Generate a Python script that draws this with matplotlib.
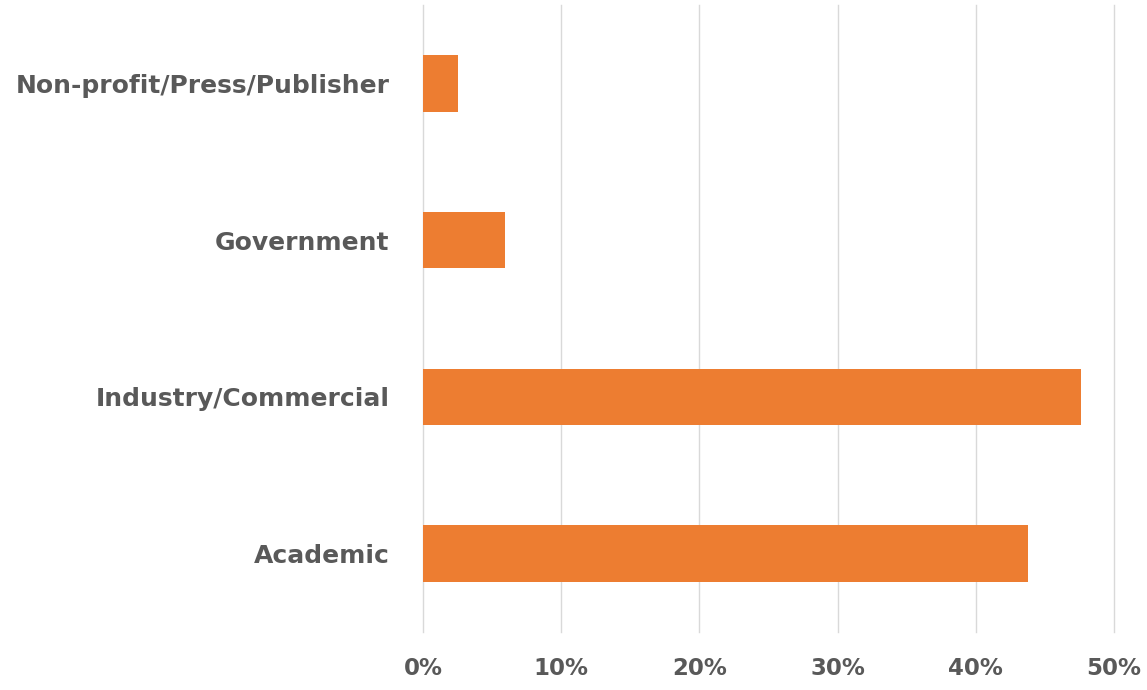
import matplotlib.pyplot as plt
from matplotlib.ticker import PercentFormatter

# Share of respondents by sector
sectors = ['Academic', 'Industry/Commercial', 'Government', 'Non-profit/Press/Publisher']
shares = [43.8, 47.6, 5.9, 2.5]

plt.rcParams['font.family'] = ['DejaVu Sans']

fig = plt.figure(figsize=(11.47, 6.90), dpi=100)
ax = fig.add_axes([0.3688, 0.084, 0.6024, 0.9088])

ax.barh(sectors, shares, height=0.36, color='#ED7D31', zorder=3)

ax.set_xlim(0, 50)
ax.set_ylim(-0.5, len(sectors) - 0.5)
ax.set_xticks(range(0, 51, 10))
ax.xaxis.set_major_formatter(PercentFormatter(decimals=0))
ax.grid(axis='x', color='#D9D9D9', linewidth=1.0, zorder=0)
ax.grid(axis='y', visible=False)
# keep the 50% gridline from being clipped at the edge
for line in ax.get_xgridlines():
    line.set_clip_on(False)

for side in ['top', 'right', 'bottom', 'left']:
    ax.spines[side].set_visible(False)

ax.tick_params(axis='both', length=0, labelcolor='#595959')
ax.tick_params(axis='y', pad=24)
ax.tick_params(axis='x', pad=18)
for lbl in ax.get_yticklabels():
    lbl.set_fontsize(18)
    lbl.set_fontweight('bold')
for lbl in ax.get_xticklabels():
    lbl.set_fontsize(16.5)
    lbl.set_fontweight('bold')

fig.savefig('out.png', dpi=100)
